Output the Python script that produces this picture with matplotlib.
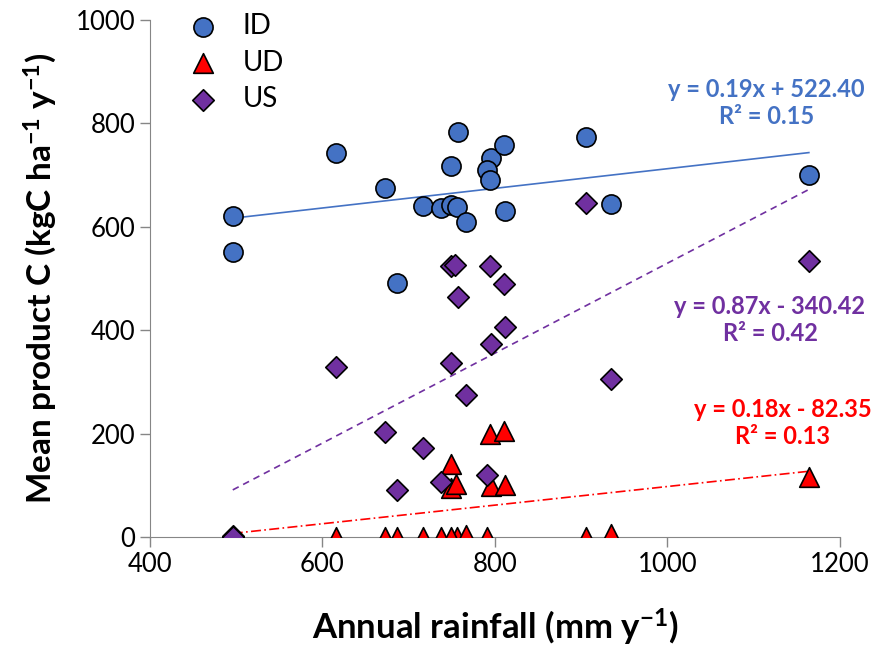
import matplotlib
matplotlib.use("Agg")
import matplotlib.pyplot as plt
import numpy as np

plt.rcParams['font.family'] = ['Lato', 'DejaVu Sans']
plt.rcParams['mathtext.default'] = 'regular'

# data
id_x = [496, 496, 616, 672, 716, 738, 749, 756, 766, 749, 757, 796, 810, 791, 794, 812, 686, 905, 934, 1164]
id_y = [621, 551, 742, 676, 640, 636, 642, 638, 610, 718, 783, 734, 758, 710, 690, 631, 491, 774, 644, 701]

ud_x = [794, 810, 749, 749, 755, 796, 812, 496, 616, 672, 686, 716, 738, 756, 766, 791, 905, 934, 1164, 749]
ud_y = [199, 206, 141, 94, 103, 99, 101, 0, 0, 0, 0, 0, 0, 0, 4, 0, 0, 6, 117, 0]

us_x = [749, 754, 794, 810, 757, 812, 796, 616, 749, 766, 672, 716, 686, 738, 791, 496, 905, 934, 1164, 496]
us_y = [525, 526, 525, 489, 465, 406, 373, 329, 336, 275, 204, 173, 91, 106, 120, 1, 647, 305, 534, 0]

# trend line coefficients (slope, intercept) and labels
id_fit = (0.19, 522.40)
ud_fit = (0.18, -82.35)
us_fit = (0.87, -340.42)
id_label = "y = 0.19x + 522.40\nR² = 0.15"
us_label = "y = 0.87x - 340.42\nR² = 0.42"
ud_label = "y = 0.18x - 82.35\nR² = 0.13"

blue = '#4472C4'
red = '#FF0000'
purple = '#7030A0'

fig = plt.figure(figsize=(8.74, 6.48), dpi=100)
ax = fig.add_axes([0.1716, 0.1713, 0.7894, 0.7978])

ax.scatter(id_x, id_y, s=190, marker='o', color=blue, edgecolor='black', linewidth=1.2, label='ID', zorder=3)
ax.scatter(ud_x, ud_y, s=200, marker='^', color=red, edgecolor='black', linewidth=1.2, label='UD', zorder=3)
ax.scatter(us_x, us_y, s=120, marker='D', color=purple, edgecolor='black', linewidth=1.2, label='US', zorder=3)

xs = np.array([min(id_x), max(id_x)])
ax.plot(xs, id_fit[0] * xs + id_fit[1], color=blue, lw=1.2, zorder=2)
ax.plot(xs, us_fit[0] * xs + us_fit[1], color=purple, lw=1.2, ls=(0, (4, 3)), zorder=2)
ax.plot(xs, ud_fit[0] * xs + ud_fit[1], color=red, lw=1.2, ls=(0, (6, 2, 1, 2)), zorder=2)

ax.text(1115, 839, id_label, color=blue, fontsize=17, fontweight='bold', ha='center', va='center', linespacing=1.2)
ax.text(1119, 420, us_label, color=purple, fontsize=17, fontweight='bold', ha='center', va='center', linespacing=1.2)
ax.text(1134, 220, ud_label, color=red, fontsize=17, fontweight='bold', ha='center', va='center', linespacing=1.2)

ax.set_xlim(400, 1200)
ax.set_ylim(0, 1000)
ax.set_xticks([400, 600, 800, 1000, 1200])
ax.set_yticks([0, 200, 400, 600, 800, 1000])
ax.tick_params(labelsize=18.5, length=7, color='#868686', width=1)
for s in ['top', 'right']:
    ax.spines[s].set_visible(False)
for s in ['left', 'bottom']:
    ax.spines[s].set_color('#868686')
ax.set_xlabel('Annual rainfall (mm y$^{-1}$)', fontsize=25, fontweight='bold', labelpad=22)
ax.set_ylabel('Mean product C (kgC ha$^{-1}$ y$^{-1}$)', fontsize=24, fontweight='bold', labelpad=12)

leg = ax.legend(loc='upper left', frameon=False, fontsize=20, handletextpad=0.45,
                labelspacing=0.38, borderaxespad=0.0, bbox_to_anchor=(0.02, 1.035))

fig.savefig('out.png', dpi=100)
